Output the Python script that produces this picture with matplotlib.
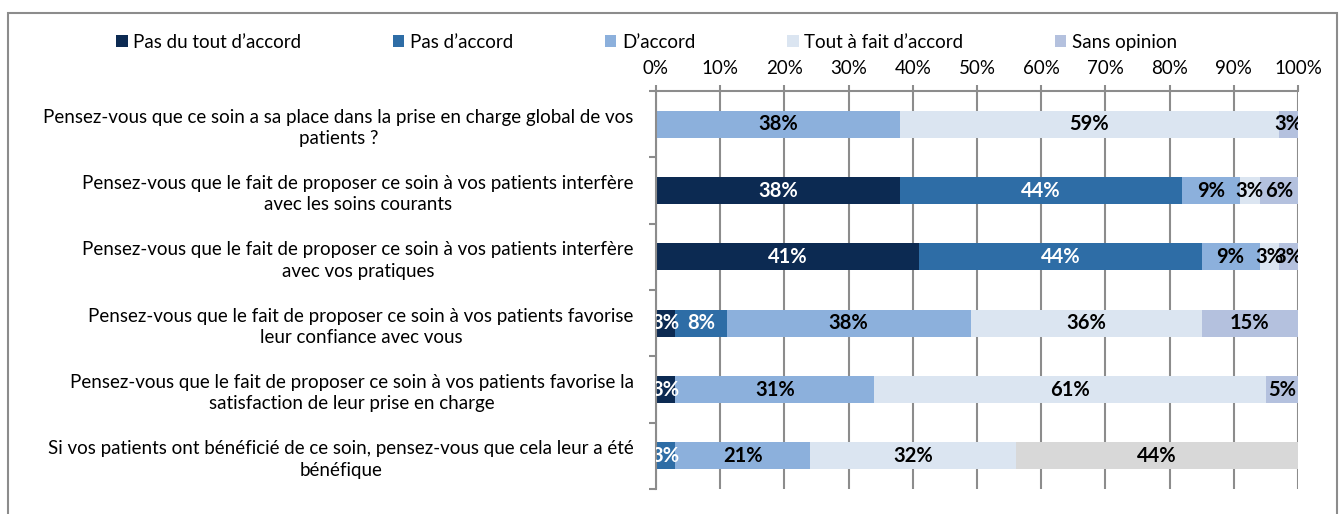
import numpy as np
import matplotlib
matplotlib.use('Agg')
import matplotlib.pyplot as plt
from matplotlib.patches import Rectangle

plt.rcParams['font.family'] = ['Lato', 'DejaVu Sans']

questions = [
    "Pensez-vous que ce soin a sa place dans la prise en charge global de vos\npatients ?",
    "Pensez-vous que le fait de proposer ce soin à vos patients interfère\navec les soins courants",
    "Pensez-vous que le fait de proposer ce soin à vos patients interfère\navec vos pratiques",
    "Pensez-vous que le fait de proposer ce soin à vos patients favorise\nleur confiance avec vous",
    "Pensez-vous que le fait de proposer ce soin à vos patients favorise la\nsatisfaction de leur prise en charge",
    "Si vos patients ont bénéficié de ce soin, pensez-vous que cela leur a été\nbénéfique",
]

pas_du_tout = [0, 38, 41, 3, 3, 0]
pas_accord = [0, 44, 44, 8, 0, 3]
accord = [38, 9, 9, 38, 31, 21]
tout_a_fait = [59, 3, 3, 36, 61, 32]
sans_opinion = [3, 6, 3, 15, 5, 0]
non_repondu = [0, 0, 0, 0, 0, 44]

series = [
    ("Pas du tout d\u2019accord", pas_du_tout, "#0c2a52", "white"),
    ("Pas d\u2019accord", pas_accord, "#2e6da6", "white"),
    ("D\u2019accord", accord, "#8cb0dc", "black"),
    ("Tout à fait d\u2019accord", tout_a_fait, "#dbe5f1", "black"),
    ("Sans opinion", sans_opinion, "#b4c1de", "black"),
    ("_nolegend_", non_repondu, "#d8d8d8", "black"),
]

fig = plt.figure(figsize=(13.39, 5.14), dpi=100)
ax = fig.add_axes([0.4899, 0.0486, 0.4795, 0.7743])

y = np.arange(len(questions))
left = np.zeros(len(questions))
for name, vals, color, tcol in series:
    vals = np.array(vals, dtype=float)
    ax.barh(y, vals, left=left, height=0.41, color=color, label=name, zorder=2)
    for yi, (l, v) in enumerate(zip(left, vals)):
        if v > 0:
            ax.text(l + v / 2, yi, f"{int(v)}%", ha='center', va='center',
                    color=tcol, fontsize=14.5, fontweight='bold', zorder=3,
                    clip_on=True)
    left += vals

ax.set_xlim(0, 100)
ax.set_ylim(len(questions) - 0.5, -0.5)

ax.xaxis.tick_top()
ax.set_xticks(range(0, 101, 10))
ax.set_xticklabels([f"{t}%" for t in range(0, 101, 10)], fontsize=13.5)
ax.tick_params(axis='x', length=4, color='#8c8c8c', width=1.5, pad=6)
ax.grid(axis='x', color='#8c8c8c', linewidth=1.5, zorder=0)

ax.set_yticks(y)
ax.set_yticklabels(questions, fontsize=13.5, multialignment='center', linespacing=1.3)
ax.tick_params(axis='y', which='major', length=0, pad=16)
ax.set_yticks(np.arange(-0.5, len(questions), 1), minor=True)
ax.tick_params(axis='y', which='minor', length=5, color='#8c8c8c', width=1.5)

for s in ['right', 'bottom']:
    ax.spines[s].set_visible(False)
for s in ['left', 'top']:
    ax.spines[s].set_color('#8c8c8c')
    ax.spines[s].set_linewidth(1.5)

fig.legend(loc='center', bbox_to_anchor=(0.483, 0.918), ncol=5, frameon=False,
           fontsize=13.5, handlelength=0.6, handleheight=0.6, handletextpad=0.3,
           columnspacing=4.9)

fig.patches.append(Rectangle((8 / 1339, -0.1), 1329 / 1339, 1.1 - 13 / 514,
                             transform=fig.transFigure, fill=False,
                             edgecolor='#8c8c8c', linewidth=1.5))

fig.savefig('out.png', dpi=100)
